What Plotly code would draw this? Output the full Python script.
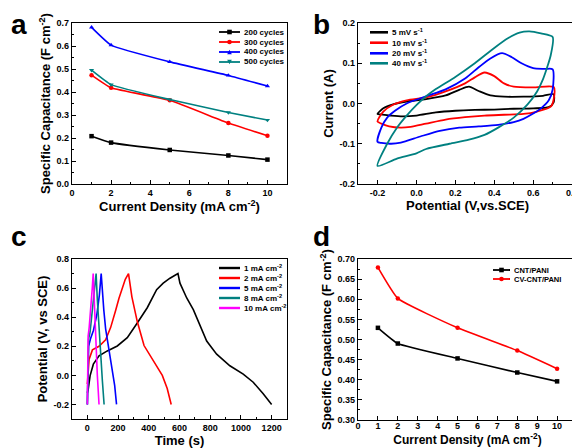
import plotly.graph_objects as go

# The page body has an 8px default margin, so the figure is 8px smaller and
# every reference pixel position is shifted by -8 when mapped to paper coords.
OFF = 8
W, H = 580 - OFF, 448 - OFF
FONT = "Arial, Liberation Sans, sans-serif"
NARROW = "Liberation Sans Narrow, Arial Narrow, Arial, sans-serif"

BLACK, RED, BLUE, TEAL, MAGENTA = "#000000", "#FF0000", "#0000FF", "#008080", "#FF00FF"

# ---------------- Panel a data ----------------
a_density = [1, 2, 5, 8, 10]
a_names = ["200 cycles", "300 cycles", "400 cycles", "500 cycles"]
a_200 = [0.208, 0.180, 0.148, 0.124, 0.106]
a_300 = [0.473, 0.418, 0.364, 0.265, 0.210]
a_400 = [0.681, 0.604, 0.531, 0.472, 0.426]
a_500 = [0.495, 0.432, 0.367, 0.311, 0.278]

# ---------------- Panel b data (CV loops) ----------------
b_names = ["5 mV s<sup>-1</sup>", "10 mV s<sup>-1</sup>", "20 mV s<sup>-1</sup>", "40 mV s<sup>-1</sup>"]
b5_v = [-0.2, -0.17, -0.12, -0.05, 0.05, 0.15, 0.22, 0.27, 0.32, 0.38, 0.45, 0.55, 0.65, 0.705,
        0.705, 0.68, 0.6, 0.5, 0.4, 0.3, 0.2, 0.1, 0.0, -0.07, -0.13, -0.18, -0.2]
b5_i = [-0.026, -0.012, -0.002, 0.005, 0.011, 0.020, 0.034, 0.042, 0.031, 0.020, 0.017, 0.017, 0.019, 0.023,
        0.003, -0.009, -0.012, -0.013, -0.015, -0.016, -0.018, -0.022, -0.030, -0.032, -0.030, -0.027, -0.026]
b10_v = [-0.2, -0.17, -0.12, -0.05, 0.05, 0.15, 0.25, 0.3, 0.35, 0.4, 0.45, 0.5, 0.6, 0.705,
         0.705, 0.69, 0.62, 0.55, 0.45, 0.35, 0.25, 0.15, 0.05, -0.03, -0.08, -0.14, -0.18, -0.2]
b10_i = [-0.045, -0.020, -0.003, 0.008, 0.015, 0.030, 0.050, 0.065, 0.077, 0.068, 0.050, 0.042, 0.040, 0.041,
         0.010, -0.008, -0.020, -0.026, -0.028, -0.030, -0.034, -0.040, -0.050, -0.058, -0.060, -0.057, -0.050, -0.045]
b20_v = [-0.2, -0.18, -0.15, -0.11, -0.05, 0.05, 0.15, 0.25, 0.32, 0.38, 0.44, 0.49, 0.54, 0.6, 0.66, 0.70,
         0.70, 0.68, 0.64, 0.6, 0.55, 0.5, 0.42, 0.32, 0.22, 0.12, 0.02, -0.08, -0.13, -0.18, -0.2]
b20_i = [-0.095, -0.060, -0.035, -0.018, 0.000, 0.018, 0.035, 0.062, 0.090, 0.112, 0.125, 0.115, 0.100, 0.088, 0.086, 0.085,
         0.035, 0.008, -0.012, -0.025, -0.038, -0.046, -0.053, -0.057, -0.060, -0.068, -0.082, -0.097, -0.100, -0.098, -0.095]
b40_v = [-0.2, -0.15, -0.1, -0.05, 0.0, 0.05, 0.1, 0.2, 0.3, 0.4, 0.47, 0.53, 0.58, 0.64, 0.70,
         0.69, 0.675, 0.65, 0.62, 0.57, 0.5, 0.42, 0.35, 0.27, 0.17, 0.05, 0.0, -0.1, -0.2]
b40_i = [-0.155, -0.100, -0.060, -0.030, -0.004, 0.018, 0.036, 0.066, 0.100, 0.138, 0.162, 0.176, 0.179, 0.174, 0.165,
         0.120, 0.095, 0.060, 0.030, -0.003, -0.035, -0.060, -0.078, -0.090, -0.100, -0.113, -0.124, -0.137, -0.155]

# ---------------- Panel c data (GCD) ----------------
c_names = ["1 mA cm<sup>-2</sup>", "2 mA cm<sup>-2</sup>", "5 mA cm<sup>-2</sup>",
           "8 mA cm<sup>-2</sup>", "10 mA cm<sup>-2</sup>"]
c1_t = [0, 5, 18, 39, 76, 130, 195, 260, 325, 390, 451, 494, 538, 590,
        603, 647, 690, 733, 777, 842, 928, 1015, 1080, 1145, 1200]
c1_v = [-0.12, -0.10, -0.002, 0.077, 0.134, 0.168, 0.202, 0.259, 0.36, 0.465, 0.589, 0.634, 0.668, 0.70,
        0.634, 0.532, 0.452, 0.339, 0.236, 0.146, 0.066, 0.009, -0.047, -0.127, -0.2]
c2_t = [0, 4, 11, 33, 76, 119, 152, 185, 206, 247, 268, 290, 325, 369, 434, 488, 520, 546]
c2_v = [-0.06, 0.02, 0.11, 0.175, 0.20, 0.245, 0.33, 0.45, 0.53, 0.66, 0.70, 0.54, 0.37, 0.205, 0.092, 0.0, -0.09, -0.2]
c5_t = [0, 3, 8, 20, 40, 62, 78, 90, 96, 107, 119, 141, 163, 178, 190]
c5_v = [-0.2, 0.15, 0.20, 0.25, 0.31, 0.42, 0.55, 0.70, 0.60, 0.45, 0.32, 0.18, 0.045, -0.07, -0.2]
c8_t = [0, 3, 8, 18, 30, 42, 52, 57, 65, 75, 85, 98, 109]
c8_v = [-0.2, 0.15, 0.25, 0.30, 0.42, 0.55, 0.65, 0.70, 0.52, 0.33, 0.16, -0.04, -0.2]
c10_t = [0, 2, 5, 12, 22, 32, 38, 45, 55, 65, 76]
c10_v = [-0.2, 0.15, 0.27, 0.33, 0.45, 0.60, 0.70, 0.50, 0.25, 0.0, -0.2]

# ---------------- Panel d data ----------------
d_density = [1, 2, 5, 8, 10]
d_names = ["CNT/PANI", "CV-CNT/PANI"]
d_cnt = [0.529, 0.490, 0.453, 0.418, 0.396]
d_cv = [0.679, 0.602, 0.529, 0.4725, 0.4275]

# ---------------- tick labels ----------------
a_xticks = [0, 2, 4, 6, 8, 10]
a_yticks = [0.0, 0.1, 0.2, 0.3, 0.4, 0.5, 0.6, 0.7]
b_xticks = [-0.2, 0.0, 0.2, 0.4, 0.6, 0.8]
b_xtext = ["-0.2", "0.0", "0.2", "0.4", "0.6", "0.8"]
b_yticks = [-0.2, -0.1, 0.0, 0.1, 0.2]
b_ytext = ["-0.2", "-0.1", "0.0", "0.1", "0.2"]
c_xticks = [0, 200, 400, 600, 800, 1000, 1200]
c_yticks = [-0.2, 0.0, 0.2, 0.4, 0.6, 0.8]
c_ytext = ["-0.2", "0.0", "0.2", "0.4", "0.6", "0.8"]
d_xticks = list(range(0, 12))
d_yticks = [0.30, 0.35, 0.40, 0.45, 0.50, 0.55, 0.60, 0.65, 0.70]

fig = go.Figure()

a_series = [a_200, a_300, a_400, a_500]
a_colors = [BLACK, RED, BLUE, TEAL]
a_symbols = ["square", "circle", "triangle-up", "triangle-down"]
for name, ys, col, sym in zip(a_names, a_series, a_colors, a_symbols):
    fig.add_trace(go.Scatter(x=a_density, y=ys, name=name, mode="lines+markers",
                             line=dict(color=col, width=1.6, shape="spline", smoothing=0.4),
                             marker=dict(symbol=sym, size=4.5, color=col),
                             xaxis="x", yaxis="y", showlegend=False))

b_series = [(b5_v, b5_i), (b10_v, b10_i), (b20_v, b20_i), (b40_v, b40_i)]
b_colors = [BLACK, RED, BLUE, TEAL]
for name, (vv, ii), col in zip(b_names, b_series, b_colors):
    fig.add_trace(go.Scatter(x=vv, y=ii, name=name, mode="lines",
                             line=dict(color=col, width=1.8, shape="spline", smoothing=0.7),
                             xaxis="x2", yaxis="y2", showlegend=False))

c_series = [(c1_t, c1_v), (c2_t, c2_v), (c5_t, c5_v), (c8_t, c8_v), (c10_t, c10_v)]
c_colors = [BLACK, RED, BLUE, TEAL, MAGENTA]
for name, (tt, vv), col in zip(c_names, c_series, c_colors):
    fig.add_trace(go.Scatter(x=tt, y=vv, name=name, mode="lines",
                             line=dict(color=col, width=1.6),
                             xaxis="x3", yaxis="y3", showlegend=False))

d_series = [d_cnt, d_cv]
d_colors = [BLACK, RED]
d_symbols = ["square", "circle"]
for name, ys, col, sym in zip(d_names, d_series, d_colors, d_symbols):
    fig.add_trace(go.Scatter(x=d_density, y=ys, name=name, mode="lines+markers",
                             line=dict(color=col, width=1.6, shape="spline", smoothing=0.4),
                             marker=dict(symbol=sym, size=4.5, color=col),
                             xaxis="x4", yaxis="y4", showlegend=False))

TICKFONT = dict(family=FONT, size=9, color="black", weight="bold")
TITLEFONT = dict(family=NARROW, size=13, color="black", weight="bold")


def px_x(p):
    return (p - OFF) / W


def px_y(p):
    return 1 - (p - OFF) / H


def axis(domain, rng, tickvals, ticktext=None, minor=None, title=None, standoff=2, anchor=None,
         title_size=13):
    d = dict(domain=domain, range=rng, tickmode="array", tickvals=tickvals,
             ticks="inside", ticklen=4, tickwidth=1, tickcolor="black",
             showline=True, linecolor="black", linewidth=1.4, mirror=True,
             showgrid=False, zeroline=False, tickfont=TICKFONT, automargin=False,
             anchor=anchor)
    if ticktext is not None:
        d["ticktext"] = ticktext
    if minor is not None:
        d["minor"] = dict(dtick=minor, ticks="inside", ticklen=2, tickcolor="black", showgrid=False)
    if title is not None:
        d["title"] = dict(text=title, font=dict(TITLEFONT, size=title_size), standoff=standoff)
    return d


ax_a = [px_x(72), px_x(287)]
ax_b = [px_x(358), px_x(577)]
ay_top = [px_y(184), px_y(23)]
ay_bot = [px_y(419), px_y(259)]

xaxis4 = axis(ax_b, [0, 11], d_xticks, title="Current Density (mA cm<sup>-2</sup>)", anchor="y4",
              standoff=4, title_size=12)
xaxis4["ticklabelstandoff"] = -3

fig.update_layout(
    width=W, height=H, margin=dict(l=0, r=0, t=0, b=0),
    paper_bgcolor="white", plot_bgcolor="white",
    font=dict(family=FONT, color="black"),
    xaxis=axis(ax_a, [0, 11], a_xticks, minor=1, title="Current Density (mA cm<sup>-2</sup>)", anchor="y"),
    yaxis=axis(ay_top, [0, 0.7], a_yticks, ticktext=[f"{v:.1f}" for v in a_yticks], minor=0.05,
               title="Specific Capacitance (F cm<sup>-2</sup>)", anchor="x"),
    xaxis2=axis(ax_b, [-0.3, 0.825], b_xticks, ticktext=b_xtext, minor=0.1,
                title="Potential (V,vs.SCE)", anchor="y2"),
    yaxis2=axis(ay_top, [-0.2, 0.2], b_yticks, ticktext=b_ytext, minor=0.05,
                title="Current (A)", anchor="x2"),
    xaxis3=axis(ax_a, [-100, 1300], c_xticks, minor=100, title="Time (s)", anchor="y3", standoff=0),
    yaxis3=axis(ay_bot, [-0.3, 0.8], c_yticks, ticktext=c_ytext, minor=0.1,
                title="Potential (V, vs SCE)", anchor="x3"),
    xaxis4=xaxis4,
    yaxis4=axis([px_y(420), px_y(259)], [0.3, 0.7], d_yticks, ticktext=[f"{v:.2f}" for v in d_yticks],
                minor=0.025, title="Specific Capacitance (F cm<sup>-2</sup>)", anchor="x4"),
)

shapes = []
annotations = []

# Panel letters
for letter, xp, yp in [("a", 9, 25), ("b", 311, 25), ("c", 9, 236), ("d", 311, 236)]:
    annotations.append(dict(text=letter, x=px_x(xp), y=px_y(yp), xref="paper", yref="paper",
                            xanchor="left", yanchor="middle", showarrow=False,
                            font=dict(family=FONT, size=28, color="black", weight="bold")))


def marker_shape(sym, cx, cy, col, r=2.3):
    x0, x1 = px_x(cx - r), px_x(cx + r)
    y0, y1 = px_y(cy + r), px_y(cy - r)
    if sym == "square":
        return dict(type="rect", xref="paper", yref="paper", x0=x0, x1=x1, y0=y0, y1=y1,
                    fillcolor=col, line=dict(width=0))
    if sym == "circle":
        return dict(type="circle", xref="paper", yref="paper", x0=x0, x1=x1, y0=y0, y1=y1,
                    fillcolor=col, line=dict(width=0))
    if sym == "triangle-up":
        path = f"M {px_x(cx)},{px_y(cy - r)} L {px_x(cx + r)},{px_y(cy + r)} L {px_x(cx - r)},{px_y(cy + r)} Z"
    else:
        path = f"M {px_x(cx)},{px_y(cy + r)} L {px_x(cx + r)},{px_y(cy - r)} L {px_x(cx - r)},{px_y(cy - r)} Z"
    return dict(type="path", xref="paper", yref="paper", path=path, fillcolor=col, line=dict(width=0))


def legend(names, colors, symbols, x0, x1, xt, rows, lw, size=8):
    for name, col, sym, ry in zip(names, colors, symbols, rows):
        shapes.append(dict(type="line", xref="paper", yref="paper", x0=px_x(x0), x1=px_x(x1),
                           y0=px_y(ry), y1=px_y(ry), line=dict(color=col, width=lw)))
        if sym:
            shapes.append(marker_shape(sym, (x0 + x1) / 2, ry, col))
        annotations.append(dict(text=name, x=px_x(xt), y=px_y(ry), xref="paper", yref="paper",
                                xanchor="left", yanchor="middle", showarrow=False,
                                font=dict(family=FONT, size=size, color="black", weight="bold")))


legend(a_names, a_colors, a_symbols, 219, 240, 242, [32, 42, 52, 62], 1.8)
legend(b_names, b_colors, [None] * 4, 370, 388, 390, [32.3, 42.7, 53.3, 63.3], 2.6)
legend(c_names, c_colors, [None] * 5, 219, 240, 242, [268, 278, 288, 298, 308], 2.4)
legend(d_names, d_colors, d_symbols, 493, 510, 512, [270, 279], 1.8, size=7.5)

fig.update_layout(shapes=shapes, annotations=annotations)
fig.write_html("out.html")
